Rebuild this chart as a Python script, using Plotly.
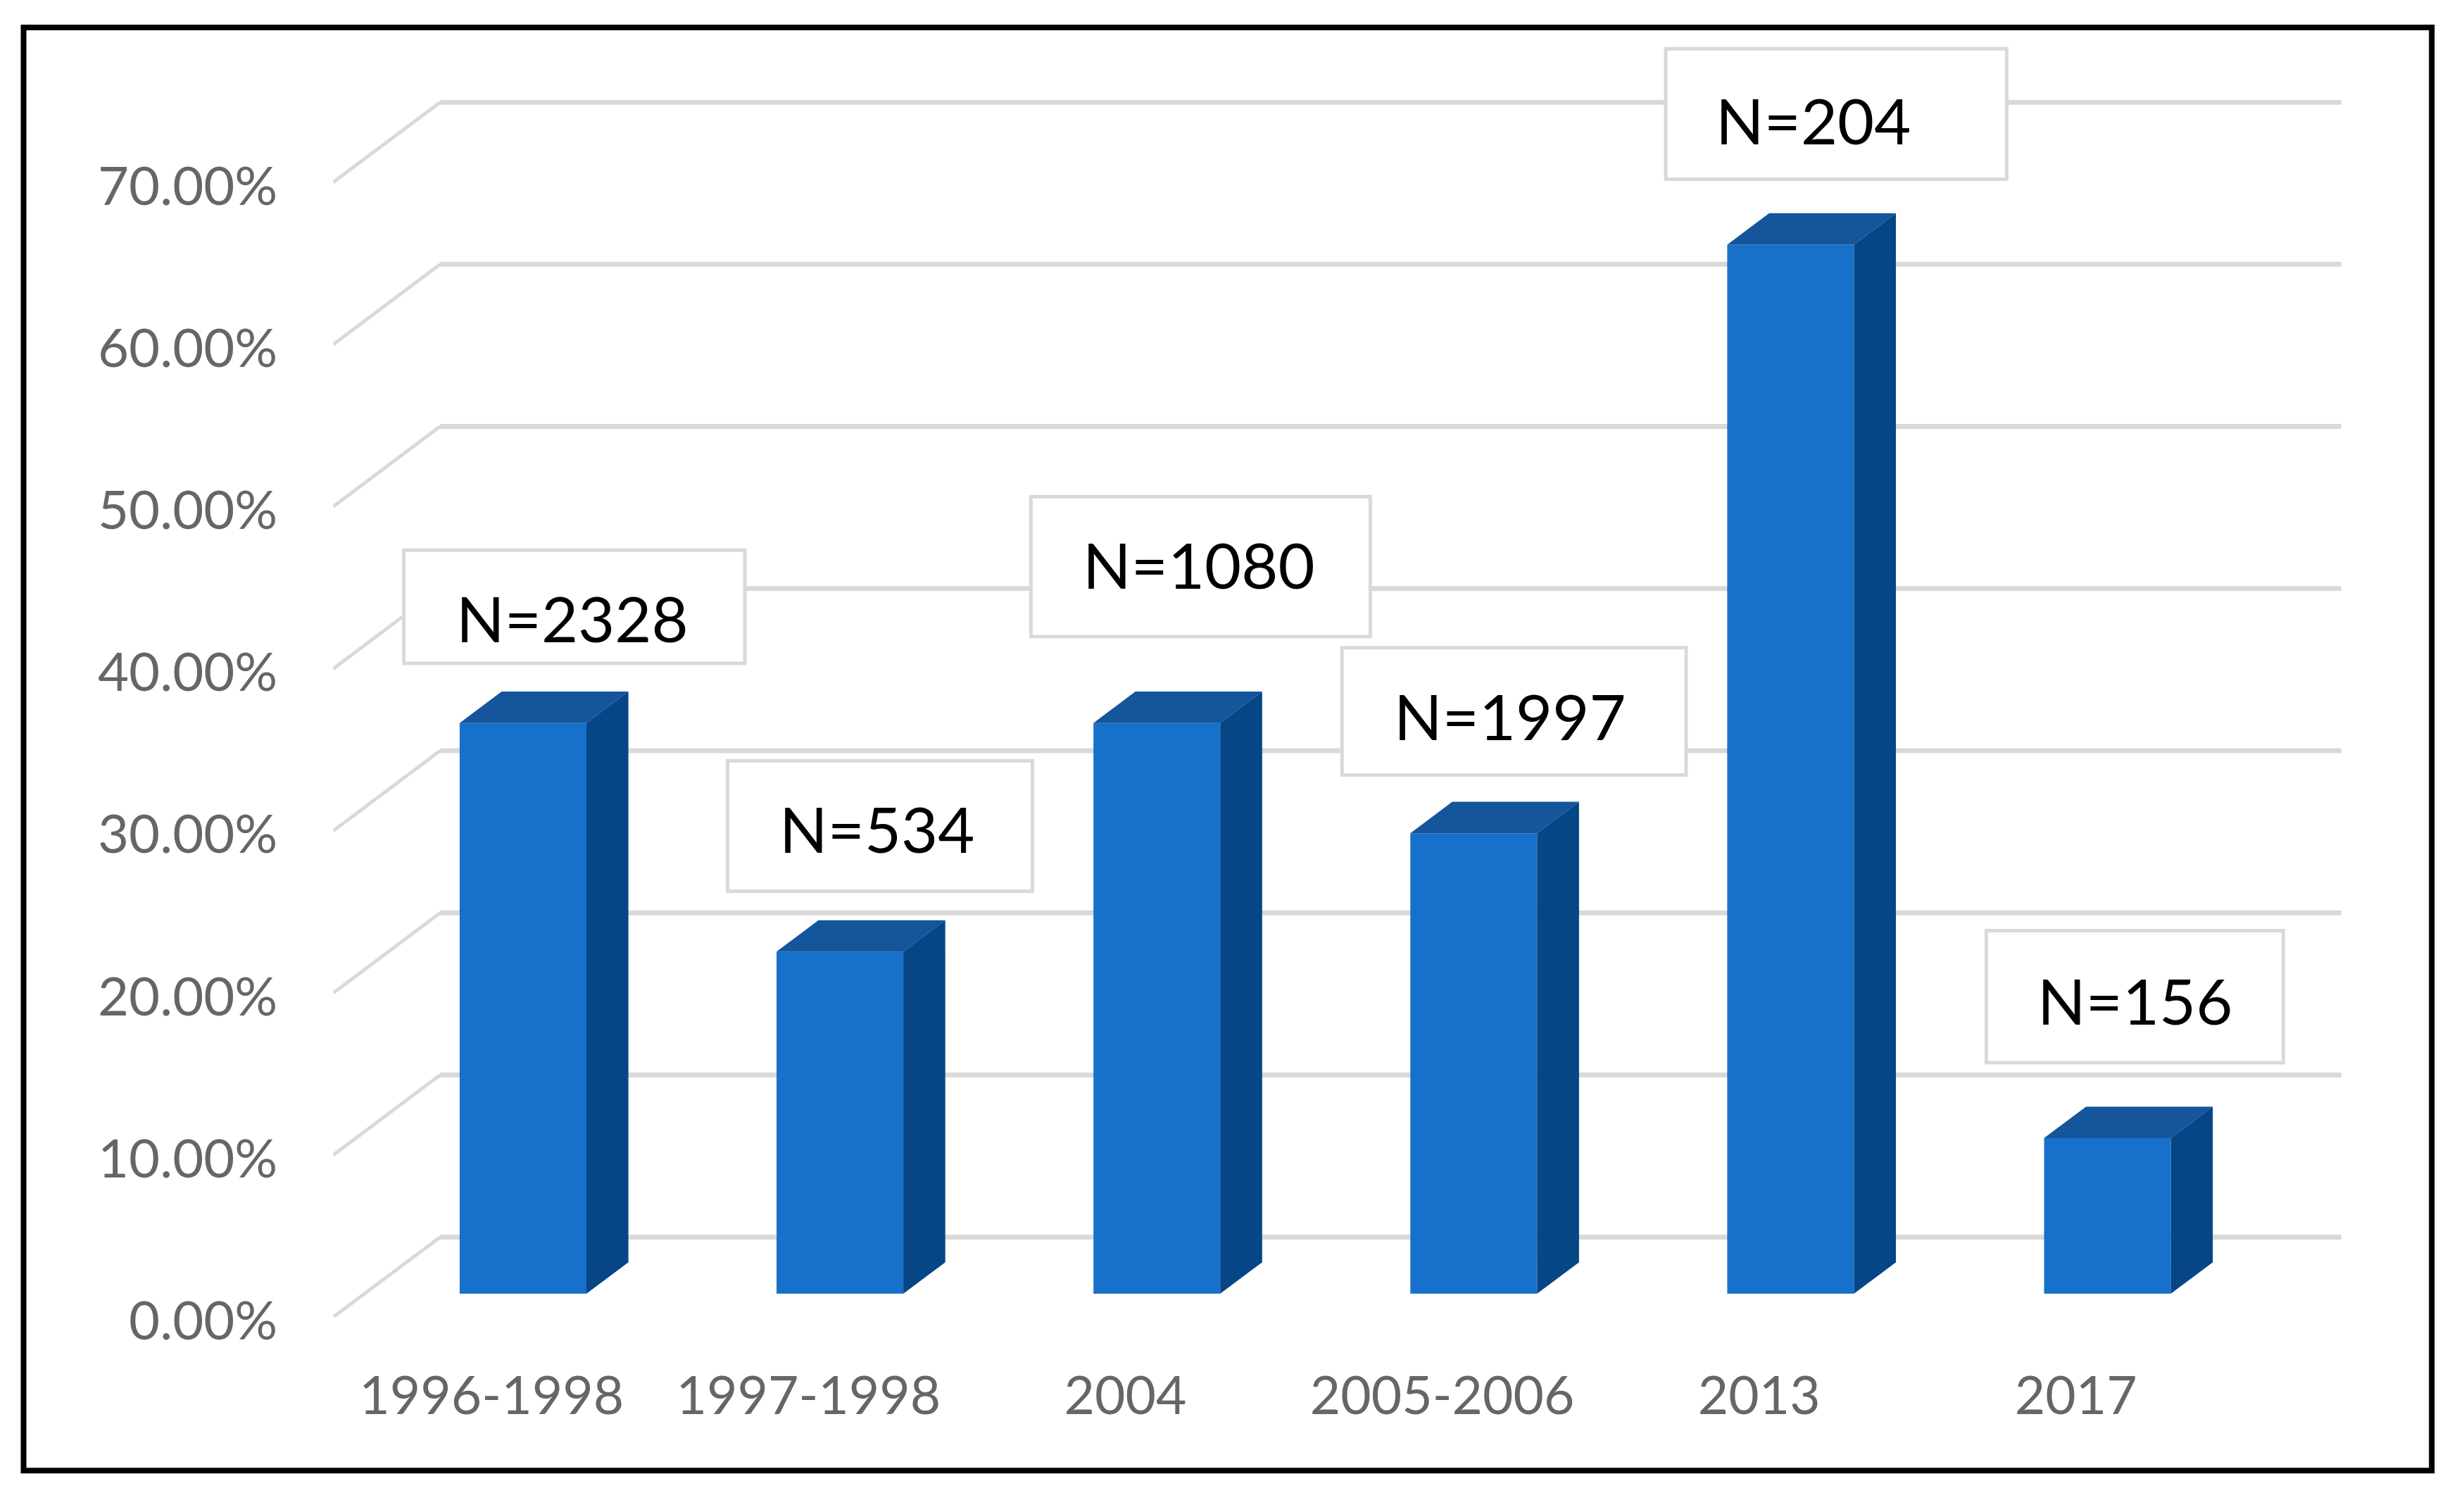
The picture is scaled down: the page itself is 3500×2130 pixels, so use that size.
import plotly.graph_objects as go

# ---- data ----
categories = ["1996-1998", "1997-1998", "2004", "2005-2006", "2013", "2017"]
values = [35.2, 21.1, 35.2, 28.4, 64.7, 9.6]
sample_labels = ["N=2328", "N=534", "N=1080", "N=1997", "N=204", "N=156"]
y_ticks = [0, 10, 20, 30, 40, 50, 60, 70]
y_tick_labels = ["0.00%", "10.00%", "20.00%", "30.00%", "40.00%", "50.00%", "60.00%", "70.00%"]

# ---- layout constants (in target pixels of the 3500x2130 page) ----
W, H = 3500, 2130
S = 3500 / 1568
PLOT_L, PLOT_R, PLOT_T, PLOT_B = 212 * S, 1490 * S, 25 * S, 838 * S
SLOT_PX = 201.4 * S
TICK_PX = 103.14 * S
DEPTH_X = 68 * S / SLOT_PX      # category units across the full floor depth
DEPTH_Y = 51 * S / TICK_PX * 10 # value units across the full floor depth
BAR_FRONT, BAR_BACK = 15 / 51, 35 / 51
BAR_WIDTH = 0.40
X_MIN, X_MAX = -0.5, 5.5 + DEPTH_X
Y_MIN, Y_MAX = 0, (PLOT_B - PLOT_T) / TICK_PX * 10

# label boxes (left, right, top, bottom) and text centres, in shrunk-picture pixels
BOXES = [(257, 474, 350, 422), (463, 657, 484, 567), (656, 872, 316, 405),
         (854, 1073, 412, 493), (1060, 1277, 31, 114), (1264, 1453, 592, 676)]
TEXT_CENTRES = [(364, 393), (558, 527), (763, 359), (961, 455), (1154, 76), (1359, 636)]

FRONT, TOP, SIDE = "#1771CA", "#14559B", "#064686"
GRID = "#D9D9D9"
FONT = "Lato"


def project(cat, val, depth):
    """Data position of a point at a given floor depth (0 front, 1 back wall)."""
    return cat + depth * DEPTH_X, val + depth * DEPTH_Y


def px_x(p):
    return X_MIN + (p * S - PLOT_L) / (PLOT_R - PLOT_L) * (X_MAX - X_MIN)


def px_y(p):
    return Y_MIN + (PLOT_B - p * S) / (PLOT_B - PLOT_T) * (Y_MAX - Y_MIN)


fig = go.Figure()

# front faces
front_x, front_base = [], []
for i in range(len(values)):
    fx, fy = project(i, 0, BAR_FRONT)
    front_x.append(fx)
    front_base.append(fy)
fig.add_trace(go.Bar(x=front_x, y=values, base=front_base, width=BAR_WIDTH,
                     marker=dict(color=FRONT, line=dict(width=0)), showlegend=False))

# top and side faces
for i, v in enumerate(values):
    l, r = i - BAR_WIDTH / 2, i + BAR_WIDTH / 2
    corners_top = [project(l, v, BAR_FRONT), project(r, v, BAR_FRONT),
                   project(r, v, BAR_BACK), project(l, v, BAR_BACK)]
    corners_side = [project(r, 0, BAR_FRONT), project(r, v, BAR_FRONT),
                    project(r, v, BAR_BACK), project(r, 0, BAR_BACK)]
    for corners, colour in ((corners_top, TOP), (corners_side, SIDE)):
        xs = [c[0] for c in corners] + [corners[0][0]]
        ys = [c[1] for c in corners] + [corners[0][1]]
        fig.add_trace(go.Scatter(x=xs, y=ys, mode="lines", fill="toself", fillcolor=colour,
                                 line=dict(width=0, color=colour), showlegend=False,
                                 hoverinfo="skip"))

shapes = []
# wall gridlines with their floor diagonals
for t in y_ticks:
    x0, y0 = project(-0.5, t, 0)
    x1, y1 = project(-0.5, t, 1)
    x2, y2 = project(5.5, t, 1)
    shapes.append(dict(type="line", xref="x", yref="y", x0=x0, y0=y0, x1=x1, y1=y1,
                       layer="below", line=dict(color=GRID, width=5)))
    shapes.append(dict(type="line", xref="x", yref="y", x0=x1, y0=y1, x1=x2, y1=y2,
                       layer="below", line=dict(color=GRID, width=7)))
# white label boxes
for l, r, t, b in BOXES:
    shapes.append(dict(type="rect", xref="x", yref="y", x0=px_x(l), x1=px_x(r),
                       y0=px_y(b), y1=px_y(t), layer="below", fillcolor="white",
                       line=dict(color=GRID, width=5)))
# outer frame
shapes.append(dict(type="rect", xref="paper", yref="paper",
                   x0=(15 * S) / W, x1=(1547.5 * S) / W,
                   y0=1 - (935.5 * S) / H, y1=1 - (17.5 * S) / H,
                   line=dict(color="black", width=8), fillcolor="rgba(0,0,0,0)"))

annotations = [dict(x=px_x(cx), y=px_y(cy), xref="x", yref="y", text=txt, showarrow=False,
                    xanchor="center", yanchor="middle", font=dict(family=FONT, size=90, color="black"))
               for txt, (cx, cy) in zip(sample_labels, TEXT_CENTRES)]

fig.update_layout(
    width=W, height=H, margin=dict(l=0, r=0, t=0, b=0), autosize=False,
    paper_bgcolor="white", plot_bgcolor="white", showlegend=False,
    shapes=shapes, annotations=annotations,
    xaxis=dict(domain=[PLOT_L / W, PLOT_R / W], range=[X_MIN, X_MAX], tickmode="array",
               tickvals=list(range(len(categories))), ticktext=categories, automargin=False,
               showgrid=False, zeroline=False, showline=False, ticks="",
               ticklabelstandoff=61,
               tickfont=dict(family=FONT, size=75, color="#666666")),
    yaxis=dict(domain=[1 - PLOT_B / H, 1 - PLOT_T / H], range=[Y_MIN, Y_MAX], tickmode="array",
               tickvals=y_ticks, ticktext=y_tick_labels, automargin=False,
               showgrid=False, zeroline=False, showline=False, ticks="",
               ticklabelstandoff=78, ticklabelshift=5,
               tickfont=dict(family=FONT, size=76, color="#666666")),
)

fig.write_html("out.html", default_width=f"{W}px", default_height=f"{H}px",
               config=dict(displayModeBar=False, responsive=False),
               post_script="document.body.style.margin='0';document.body.style.overflow='hidden';")
